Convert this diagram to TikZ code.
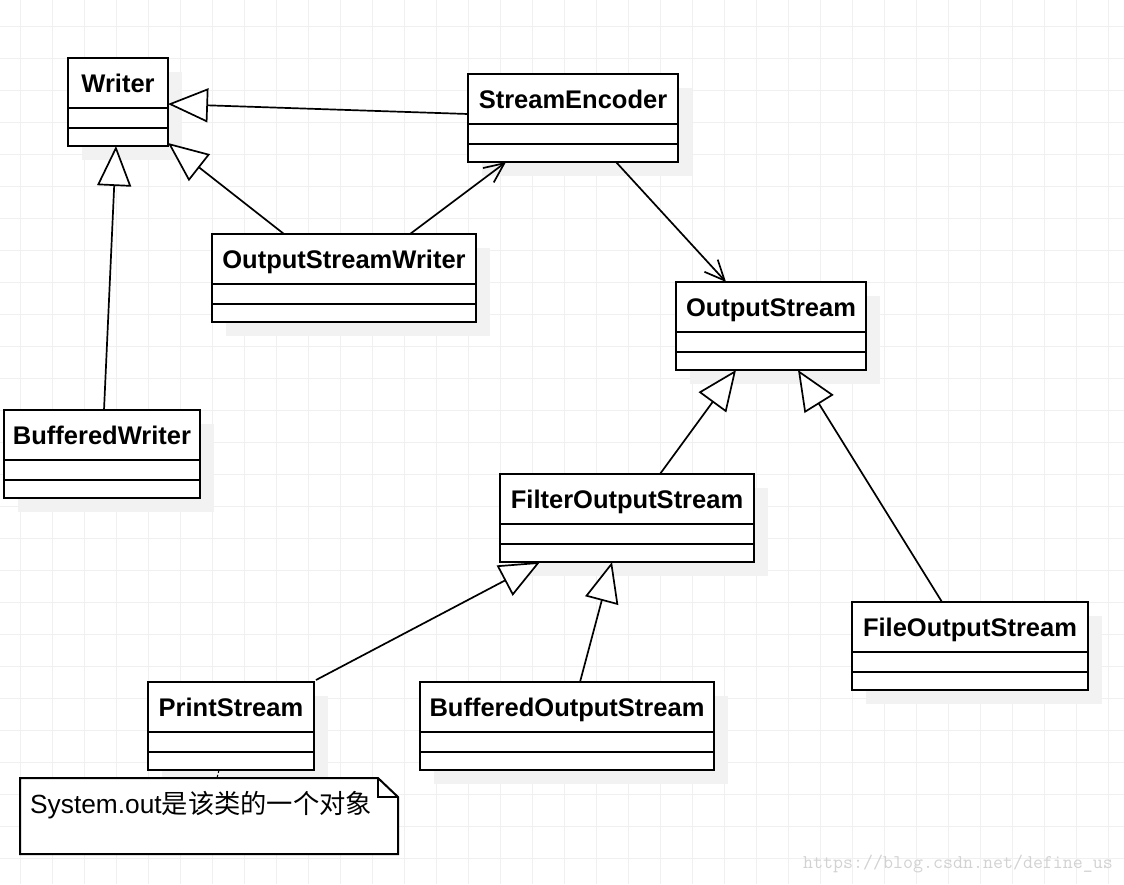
\documentclass[tikz,border=0pt]{standalone}
\usepackage{fontspec}
\setmainfont{Liberation Sans}
\newfontfamily\cjk{Noto Sans CJK SC}
\usepackage{tikz}
\usetikzlibrary{arrows.meta,calc}

\tikzset{
    gridline/.style={draw=gray!12, line width=1pt},
    shadowbox/.style={fill=gray!10},
    classbox/.style={draw, fill=white, line width=2pt, inner sep=0pt, outer sep=0pt, minimum height=88pt},
    classline/.style={line width=2pt},
    classname/.style={font=\fontsize{25.5}{30}\selectfont\bfseries, inner sep=0pt, anchor=base},
    inherit/.style={line width=1.7pt, -{Triangle[length=40pt, width=34pt, fill=white, line join=miter]}},
    assoc/.style={line width=1.7pt, -{Straight Barb[length=20pt, width=18pt]}},
    notebox/.style={minimum width=378pt, minimum height=76pt, inner sep=0pt, outer sep=0pt},
    notelink/.style={line width=1pt, densely dashed},
}

\begin{document}
\begin{tikzpicture}[x=1pt, y=-1pt]
    \useasboundingbox (0,0) rectangle (1124,884);
    \fill[white] (0,0) rectangle (1124,884);
    % background grid
    \foreach \gx in {20.5,52.5,...,1124} \draw[gridline] (\gx,0) -- (\gx,884);
    \foreach \gy in {26,58,...,884} \draw[gridline] (0,\gy) -- (1124,\gy);

    % classes: name / top left corner / width / text
    \foreach \id/\x/\y/\w/\txt in {
        writer/68/58/100/Writer,
        enc/468/74/210/StreamEncoder,
        osw/212/234/264/OutputStreamWriter,
        os/676/282/190/OutputStream,
        bw/4/410/196/BufferedWriter,
        fos/500/474/254/FilterOutputStream,
        file/852/602/236/FileOutputStream,
        ps/148/682/166/PrintStream,
        bos/420/682/294/BufferedOutputStream} {
        \fill[shadowbox] (\x+14,\y+14) rectangle ++(\w,88);
        \node[classbox, minimum width=\w pt, anchor=north west] (\id) at (\x,\y) {};
        \node[classname] at ([yshift=-34pt]\id.north) {\txt};
        \draw[classline] ([yshift=-50pt]\id.north west) -- ([yshift=-50pt]\id.north east);
        \draw[classline] ([yshift=-70pt]\id.north west) -- ([yshift=-70pt]\id.north east);
    }

    % generalizations
    \draw[inherit] ([yshift=-40pt]enc.north west) -- ([yshift=-46pt]writer.north east);
    \draw[inherit] ([xshift=72pt]osw.north west) -- ([yshift=3pt]writer.south east);
    \draw[inherit] ([xshift=100pt]bw.north west) -- ([xshift=48pt]writer.south west);
    \draw[inherit] ([xshift=160pt]fos.north west) -- ([xshift=60pt]os.south west);
    \draw[inherit] ([xshift=90pt]file.north west) -- ([xshift=122pt]os.south west);
    \draw[inherit] ([xshift=2pt,yshift=2pt]ps.north east) -- ([xshift=40pt]fos.south west);
    \draw[inherit] ([xshift=160pt]bos.north west) -- ([xshift=112pt]fos.south west);

    % associations
    \draw[assoc] ([xshift=198pt]osw.north west) -- ([xshift=38pt]enc.south west);
    \draw[assoc] ([xshift=148pt]enc.south west) -- ([xshift=50pt]os.north west);

    % note
    \node[notebox, anchor=north west] (note) at (20,778) {};
    \draw[classline, fill=white] (note.north west) -- ([xshift=-20pt]note.north east)
        -- ([yshift=-19pt]note.north east) -- (note.south east) -- (note.south west) -- cycle;
    \draw[classline] ([xshift=-20pt]note.north east) -- ([xshift=-20pt,yshift=-19pt]note.north east)
        -- ([yshift=-19pt]note.north east);
    \node[anchor=base west, inner sep=0pt, font=\fontsize{26.3}{30}\selectfont] (notetext) at (30,813)
        {System.out{\cjk 是该类的一个对象}};
    \draw[notelink] ([xshift=71pt]ps.south west) -- ([xshift=197pt]note.north west);

    % watermark
    \node[anchor=base west, inner sep=0pt, text=gray!35, font=\fontsize{19.4}{19.4}\ttfamily] (mark) at (803,868)
        {https://blog.csdn.net/define\_us};
\end{tikzpicture}
\end{document}
